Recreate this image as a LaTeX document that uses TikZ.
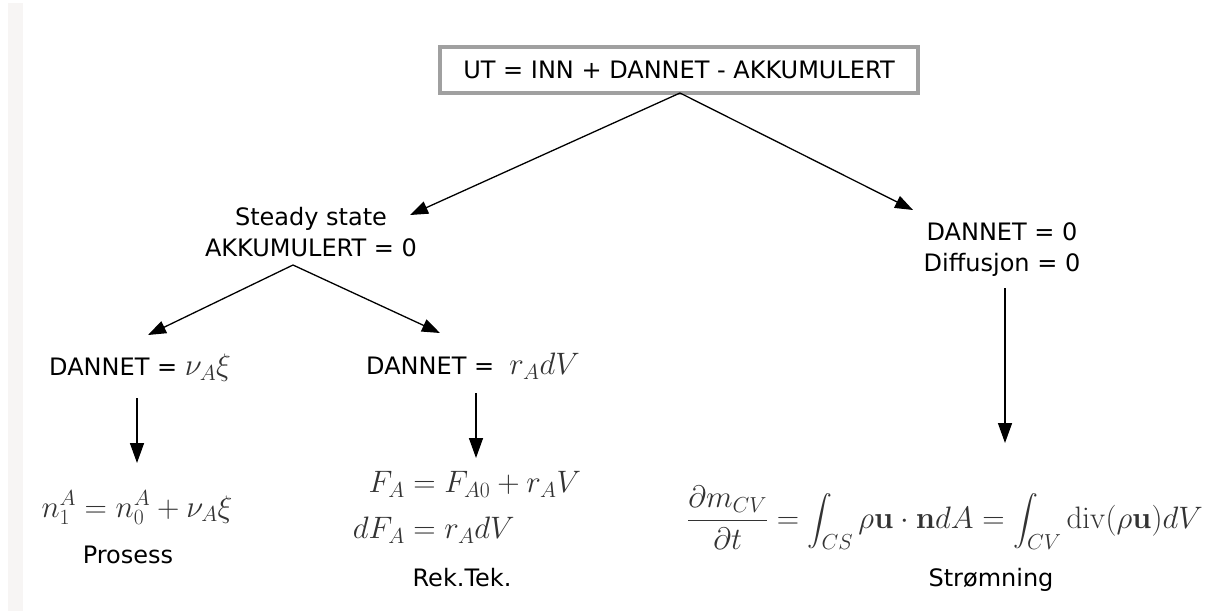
\RequirePackage{fix-cm}
\documentclass[tikz,border=0pt]{standalone}
\usepackage{amsmath}
\usepackage[no-math]{fontspec}
\setmainfont{DejaVu Sans}
\usetikzlibrary{arrows.meta}
\definecolor{boxgray}{HTML}{A0A0A0}
\definecolor{stripgray}{HTML}{F7F5F4}
\definecolor{mathgray}{HTML}{333333}
\tikzset{
  lbl/.style={font=\fontsize{24}{31}\selectfont, inner sep=0pt, align=center},
  eq/.style={font=\fontsize{31}{37}\selectfont, inner sep=0pt, text=mathgray},
  arr/.style={-{Triangle[length=20pt,width=14pt]}, line width=1.5pt},
  darr/.style={-{Triangle[length=18pt,width=13pt]}, line width=1.3pt},
}
\begin{document}
\begin{tikzpicture}[x=1pt,y=-1pt]
\useasboundingbox (0,0) rectangle (1228,611);
\fill[white] (0,0) rectangle (1228,611);
\fill[stripgray] (8,3) rectangle (23,611);

% top box
\node[lbl, draw=boxgray, line width=3.5pt, fill=white, minimum width=478pt, minimum height=46pt] (top) at (679,70) {UT = INN + DANNET - AKKUMULERT};

% second level
\node[lbl] (ss) at (311,232) {Steady state\\AKKUMULERT = 0};
\node[lbl] (dn) at (1002,250) {DANNET = 0\\Diffusjon = 0};

% third level
\node[lbl, anchor=west] (d1) at (49,368) {DANNET = {\fontsize{31}{37}\selectfont\color{mathgray}$\nu_A\xi$}};
\node[lbl, anchor=west] (d2) at (366,366) {DANNET = \ {\fontsize{31}{37}\selectfont\color{mathgray}$r_A dV$}};

% equations
\node[eq] (e1) at (137,508) {$n_1^A = n_0^A + \nu_A\xi$};
\node[eq] (e2) at (467,508) {$\begin{aligned} F_A &= F_{A0} + r_A V\\[6pt] dF_A &= r_A dV\end{aligned}$};
\node[eq] (e3) at (945,518) {$\displaystyle \frac{\partial m_{CV}}{\partial t} = \int_{CS}\rho\mathbf{u}\cdot\mathbf{n}dA = \int_{CV}\mathrm{div}(\rho\mathbf{u})dV$};

% captions
\node[lbl] (c1) at (128,555) {Prosess};
\node[lbl] (c2) at (462,578) {Rek.Tek.};
\node[lbl] (c3) at (991,580) {Strømning};

% connector end points
\coordinate (tA) at (680,93);
\coordinate (t1) at (410,215);
\coordinate (t2) at (913,210);
\coordinate (sA) at (293,265);
\coordinate (s1) at (148,335);
\coordinate (s2) at (440,333);
\coordinate (v1a) at (137,398);
\coordinate (v1b) at (137,463);
\coordinate (v2a) at (476,393);
\coordinate (v2b) at (476,458);
\coordinate (v3a) at (1005,288);
\coordinate (v3b) at (1005,443);

\draw[darr] (tA) -- (t1);
\draw[darr] (tA) -- (t2);
\draw[darr] (sA) -- (s1);
\draw[darr] (sA) -- (s2);
\draw[arr] (v1a) -- (v1b);
\draw[arr] (v2a) -- (v2b);
\draw[arr] (v3a) -- (v3b);
\end{tikzpicture}
\end{document}
